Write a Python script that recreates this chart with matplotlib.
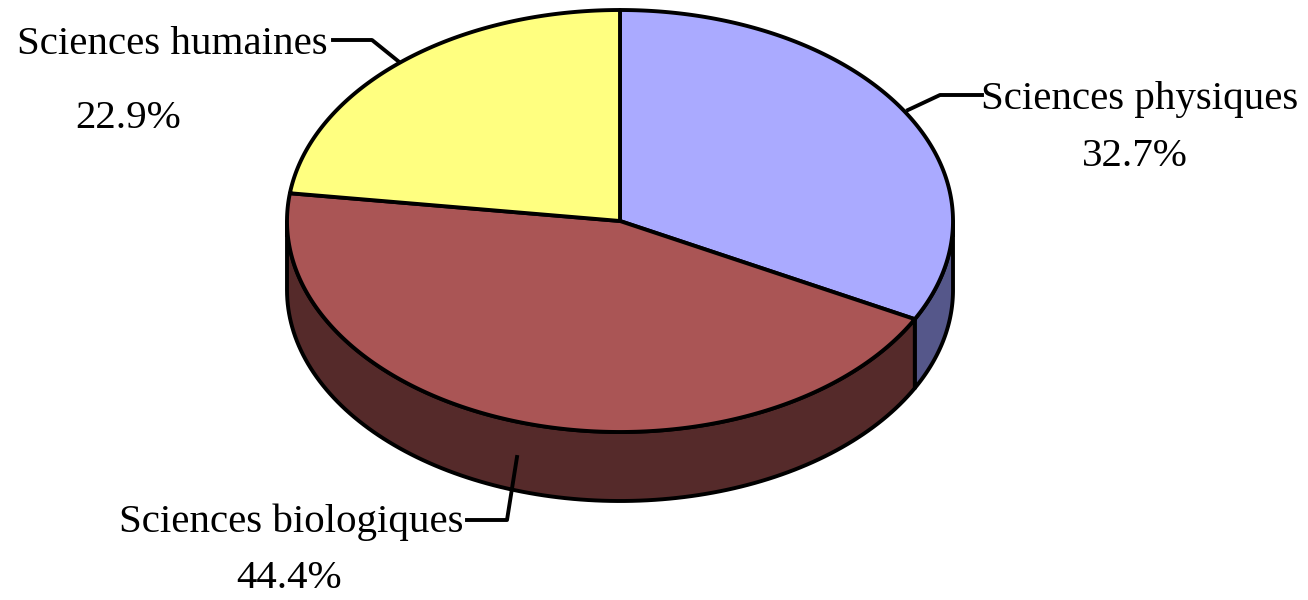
import matplotlib.pyplot as plt
import numpy as np
from matplotlib.patches import Polygon

# data
labels = ["Sciences physiques", "Sciences biologiques", "Sciences humaines"]
shares = [32.7, 44.4, 22.9]
top_colors = ["#aaaaff", "#aa5555", "#ffff80"]
side_colors = ["#55578a", "#552a2a", "#808040"]

plt.rcParams['font.family'] = ['Liberation Serif', 'DejaVu Serif']

fig = plt.figure(figsize=(13.08, 6), dpi=100)
ax = fig.add_axes([0, 0, 1, 1])
ax.set_xlim(0, 1308)
ax.set_ylim(600, 0)
ax.axis('off')

# ellipse geometry (pixel units)
cx, cy, rx, ry, depth = 620, 221, 333, 211, 69


def pt(t, dy=0.0):
    r = np.radians(t)
    return cx + rx * np.cos(r), cy - ry * np.sin(r) + dy


# wedge angles: start at top, clockwise
fr = np.array(shares) / sum(shares)
ends = 90 - 360 * np.cumsum(fr)
starts = np.concatenate([[90], ends[:-1]])

# side walls (front half only: t in [-180, 0])
for a0, a1, sc in zip(starts, ends, side_colors):
    lo, hi = max(a1, -180), min(a0, 0)
    if lo >= hi:
        lo2, hi2 = max(a1 + 360, -180), min(a0 + 360, 0)
        if lo2 >= hi2:
            continue
        lo, hi = lo2, hi2
    ts = np.linspace(hi, lo, 120)
    top = [pt(t) for t in ts]
    bot = [pt(t, depth) for t in ts[::-1]]
    ax.add_patch(Polygon(top + bot, closed=True, facecolor=sc,
                         edgecolor='black', lw=2.8, joinstyle='round', zorder=2))

# top faces
for a0, a1, tc in zip(starts, ends, top_colors):
    ts = np.linspace(a0, a1, 200)
    verts = [(cx, cy)] + [pt(t) for t in ts]
    ax.add_patch(Polygon(verts, closed=True, facecolor=tc,
                         edgecolor='black', lw=2.8, joinstyle='round', zorder=3))

# labels and leader lines
fs = 29.5
ax.plot([908, 940, 982], [110, 95, 95], color='black', lw=2.8, zorder=4)
ax.text(1140, 100, labels[0], ha='center', va='center', fontsize=fs)
ax.text(1135, 156, f"{shares[0]}%", ha='center', va='center', fontsize=fs)

ax.plot([517, 507, 467], [457, 520, 520], color='black', lw=2.8, zorder=4)
ax.text(291, 522, labels[1], ha='center', va='center', fontsize=fs)
ax.text(289, 578, f"{shares[1]}%", ha='center', va='center', fontsize=fs)

ax.plot([333, 372, 398], [40, 40, 61], color='black', lw=2.8, zorder=4)
ax.text(172, 44, labels[2], ha='center', va='center', fontsize=fs)
ax.text(128, 118, f"{shares[2]}%", ha='center', va='center', fontsize=fs)

fig.savefig("out.png", dpi=100, facecolor='white')
